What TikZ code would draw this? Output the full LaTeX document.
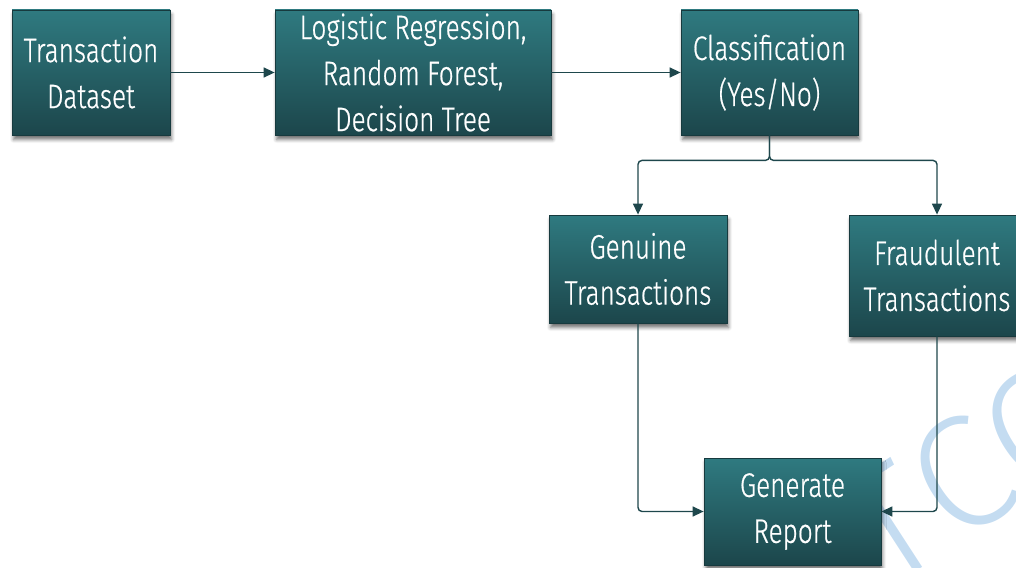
\documentclass[tikz,border=0pt]{standalone}
\usepackage{fontspec}
\setmainfont{Fira Sans Light}[FakeStretch=0.77, FakeBold=0.6]
\newfontfamily\wmfont{Fira Sans Light}
\usetikzlibrary{arrows.meta,shadows.blur}

\definecolor{boxtop}{HTML}{2F7A80}
\definecolor{boxbot}{HTML}{1C464B}
\definecolor{boxedge}{HTML}{173A3E}
\definecolor{linkcol}{HTML}{1E474C}
\definecolor{wmblue}{HTML}{C4DCF1}

\tikzset{
  stagebox/.style={rectangle, draw=boxedge, line width=0.8pt,
    top color=boxtop, bottom color=boxbot,
    text=white, align=center, inner sep=0pt,
    font=\fontsize{34}{46}\selectfont,
    blur shadow={shadow xshift=1.5pt, shadow yshift=-4.5pt,
      shadow blur radius=3.5pt, shadow opacity=55}},
  link/.style={draw=linkcol, line width=1.4pt,
    -{Triangle[length=11pt,width=10pt]}},
}

\begin{document}
\begin{tikzpicture}[x=1pt,y=-1pt]
  \useasboundingbox (0,0) rectangle (1016,567);

  % faint watermark behind everything
  \node[text=wmblue, font=\wmfont\fontsize{160}{160}\selectfont,
        rotate=33, anchor=base west, inner sep=0pt] (wm) at (885,592)
        {\spaceskip=4pt\relax T COPY};

  % processing pipeline
  \node[stagebox, minimum width=158pt, minimum height=125pt] (data)   at (91,72.5)   {Transaction\\Dataset};
  \node[stagebox, minimum width=276pt, minimum height=125pt] (models) at (413,72.5)  {Logistic Regression,\\Random Forest,\\Decision Tree};
  \node[stagebox, minimum width=177pt, minimum height=125pt] (cls)    at (769.5,72.5){Classification\\(Yes/No)};

  % outcomes
  \node[stagebox, minimum width=178pt, minimum height=108pt] (gen)    at (638,269)   {Genuine\\Transactions};
  \node[stagebox, minimum width=176pt, minimum height=121pt] (fraud)  at (937,275.5) {Fraudulent\\Transactions};
  \node[stagebox, minimum width=177pt, minimum height=107pt] (rep)    at (792.5,511.5){Generate\\Report};

  % connectors
  \draw[link] (data.east) -- (models.west);
  \draw[link] (models.east) -- (cls.west);
  \draw[link, rounded corners=4pt] (cls.south) -- ++(0,25) -| (gen.north);
  \draw[link, rounded corners=4pt] (cls.south) -- ++(0,25) -| (fraud.north);
  \draw[link, rounded corners=4pt] (gen.south) |- (rep.west);
  \draw[link, rounded corners=4pt] (fraud.south) |- (rep.east);
\end{tikzpicture}
\end{document}
